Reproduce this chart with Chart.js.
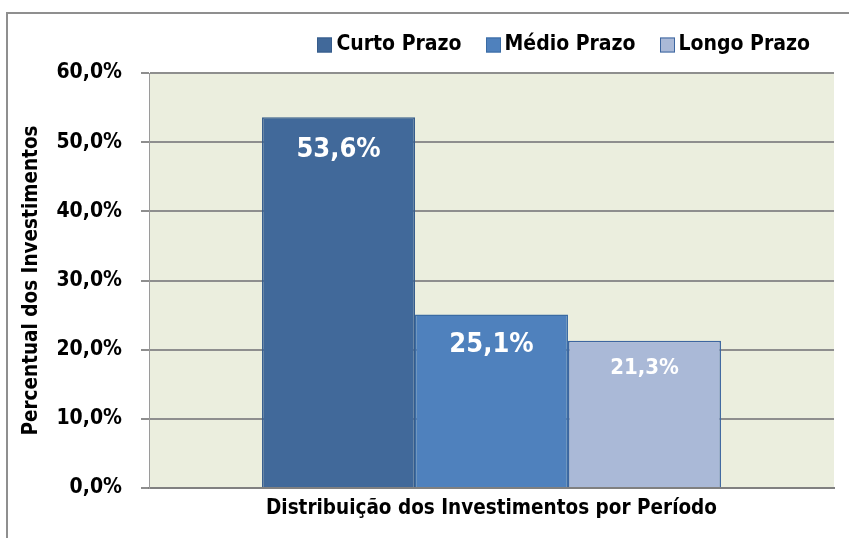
<!DOCTYPE html>
<html>
<head>
<meta charset="utf-8">
<script src="https://cdn.jsdelivr.net/npm/chart.js@4.4.1/dist/chart.umd.min.js"></script>
<style>
html,body{margin:0;padding:0;background:#fff;overflow:hidden;}
canvas{display:block;}
</style>
</head>
<body>
<canvas id="c" width="849" height="538"></canvas>
<script>
const categories = ['Distribuição dos Investimentos por Período'];
const seriesNames = ['Curto Prazo', 'Médio Prazo', 'Longo Prazo'];
const curtoPrazo = [53.6];
const medioPrazo = [25.1];
const longoPrazo = [21.3];
const yTicks = [0, 10, 20, 30, 40, 50, 60];
const yTitle = 'Percentual dos Investimentos';

const FONT = '"Liberation Sans Narrow", "Arial Narrow", "DejaVu Sans Condensed", sans-serif';
const fillColors = ['#41699A', '#4F81BD', '#AAB9D7'];
const borderColors = ['#365C8B', '#3A6BA3', '#3D66A0'];
const labelFontSizes = [27, 27, 22];
const labelOffsets = [33, 31, 28];

function fmt(v){ return v.toFixed(1).replace('.', ',') + '%'; }

const plotBg = {
  id: 'plotBg',
  beforeDraw(chart){
    const {ctx, chartArea:a} = chart;
    ctx.save();
    ctx.fillStyle = '#EBEEDE';
    ctx.fillRect(a.left, a.top, a.right - a.left, a.bottom - a.top);
    ctx.strokeStyle = '#8f8f8f';
    ctx.lineWidth = 2;
    ctx.beginPath();
    ctx.moveTo(7, 540);
    ctx.lineTo(7, 13);
    ctx.lineTo(852, 13);
    ctx.stroke();
    ctx.restore();
  }
};

const barLabels = {
  id: 'barLabels',
  afterDatasetsDraw(chart){
    const ctx = chart.ctx;
    ctx.save();
    ctx.fillStyle = '#FFFFFF';
    ctx.textAlign = 'center';
    ctx.textBaseline = 'middle';
    chart.data.datasets.forEach((ds, i) => {
      const meta = chart.getDatasetMeta(i);
      meta.data.forEach((el, j) => {
        ctx.font = 'bold ' + labelFontSizes[i] + 'px ' + FONT;
        ctx.fillText(fmt(ds.data[j]), el.x, el.y + labelOffsets[i]);
      });
    });
    ctx.restore();
  }
};

const customLegend = {
  id: 'customLegend',
  afterDraw(chart){
    const ctx = chart.ctx;
    ctx.save();
    ctx.font = 'bold 21px ' + FONT;
    ctx.textBaseline = 'middle';
    ctx.textAlign = 'left';
    const box = 15, gapText = 4, gapItem = 24, endX = 810, cy = 45;
    const ds = chart.data.datasets;
    const widths = ds.map(d => ctx.measureText(d.label).width);
    let x = endX;
    const xs = [];
    for (let i = ds.length - 1; i >= 0; i--) {
      x -= widths[i];
      const tx = x;
      x -= gapText + box;
      xs[i] = {bx: Math.round(x), tx: tx};
      x -= gapItem;
    }
    ds.forEach((d, i) => {
      ctx.fillStyle = d.backgroundColor;
      ctx.fillRect(xs[i].bx, cy - box/2, box, box);
      ctx.strokeStyle = d.borderColor;
      ctx.lineWidth = 1;
      ctx.strokeRect(xs[i].bx + 0.5, cy - box/2 + 0.5, box - 1, box - 1);
      ctx.fillStyle = '#000';
      ctx.fillText(d.label, xs[i].tx, cy);
    });
    ctx.restore();
  }
};

const seriesData = [curtoPrazo, medioPrazo, longoPrazo];

new Chart(document.getElementById('c'), {
  type: 'bar',
  data: {
    labels: categories,
    datasets: seriesNames.map((n, i) => ({
      label: n,
      data: seriesData[i],
      backgroundColor: fillColors[i],
      borderColor: borderColors[i],
      borderWidth: 1.5,
      borderSkipped: 'bottom',
      categoryPercentage: 0.67,
      barPercentage: 1.0
    }))
  },
  options: {
    responsive: false,
    animation: false,
    devicePixelRatio: 1,
    layout: {padding: {left: 0, right: 15, top: 73, bottom: 0}},
    plugins: {legend: {display: false}, tooltip: {enabled: false}},
    scales: {
      x: {
        grid: {display: false, drawTicks: false},
        border: {display: true, color: '#808080', width: 2},
        ticks: {color: '#000', font: {family: FONT, size: 20.5, weight: 'bold'}, padding: 8},
        afterFit(s){ s.height = 50; }
      },
      y: {
        min: 0, max: 60,
        afterBuildTicks(s){ s.ticks = yTicks.map(v => ({value: v})); },
        grid: {color: '#8E8E8E', lineWidth: 2, tickLength: 8, drawTicks: true},
        border: {display: true, color: '#9A9A9A', width: 1},
        ticks: {color: '#000', font: {family: FONT, size: 21, weight: 'bold'}, padding: 19,
                callback: v => fmt(v)},
        title: {display: true, text: yTitle, color: '#000',
                font: {family: FONT, size: 20.5, weight: 'bold'}, padding: {top: 19, bottom: 0}},
        afterFit(s){ s.width = 149; }
      }
    }
  },
  plugins: [plotBg, barLabels, customLegend]
});
</script>
</body>
</html>
